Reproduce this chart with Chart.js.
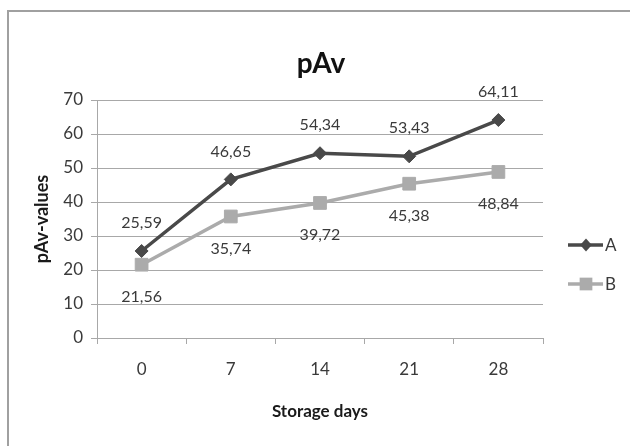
<!DOCTYPE html>
<html>
<head>
<meta charset="utf-8">
<script src="https://cdn.jsdelivr.net/npm/chart.js@4/dist/chart.umd.min.js"></script>
<style>
  html, body { margin: 0; padding: 0; background: #fff; }
  #wrap { width: 630px; height: 446px; position: relative; }
</style>
</head>
<body>
<div id="wrap"><canvas id="c" width="630" height="446"></canvas></div>
<script>
const chartTitle = 'pAv';
const xAxisTitle = 'Storage days';
const yAxisTitle = 'pAv-values';
const categories = ['0', '7', '14', '21', '28'];
const seriesNames = ['A', 'B'];
const seriesA = [25.59, 46.65, 54.34, 53.43, 64.11];
const seriesB = [21.56, 35.74, 39.72, 45.38, 48.84];
const yTicks = [0, 10, 20, 30, 40, 50, 60, 70];

const FONT = "Lato, 'Open Sans', sans-serif";
const colA = '#494949';
const colB = '#ababab';
const gridCol = '#a8a8a8';
const textCol = '#3a3a3a';

const decoPlugin = {
  id: 'deco',
  beforeDraw(chart) {
    const ctx = chart.ctx;
    ctx.save();
    ctx.fillStyle = '#fff';
    ctx.fillRect(0, 0, chart.width, chart.height);
    ctx.strokeStyle = '#a0a0a0';
    ctx.lineWidth = 2;
    ctx.beginPath();
    ctx.moveTo(8, 446);
    ctx.lineTo(8, 11);
    ctx.lineTo(630, 11);
    ctx.stroke();
    ctx.restore();
  },
  afterDraw(chart) {
    const ctx = chart.ctx;
    ctx.save();
    // title
    ctx.fillStyle = '#111';
    ctx.font = "bold 28px " + FONT;
    ctx.textAlign = 'center';
    ctx.textBaseline = 'middle';
    ctx.fillText(chartTitle, 321, 64);
    // legend
    const items = [
      {name: seriesNames[0], color: colA, style: 'rectRot', r: 6.5, y: 245},
      {name: seriesNames[1], color: colB, style: 'rect', r: 9, y: 284}
    ];
    items.forEach(it => {
      ctx.strokeStyle = it.color;
      ctx.lineWidth = 3.5;
      ctx.beginPath();
      ctx.moveTo(568, it.y);
      ctx.lineTo(603, it.y);
      ctx.stroke();
      ctx.fillStyle = it.color;
      ctx.beginPath();
      if (it.style === 'rectRot') {
        ctx.moveTo(586, it.y - it.r);
        ctx.lineTo(586 + it.r * 0.9, it.y);
        ctx.lineTo(586, it.y + it.r);
        ctx.lineTo(586 - it.r * 0.9, it.y);
        ctx.closePath();
      } else {
        const s = it.r * Math.SQRT1_2;
        ctx.rect(586 - s, it.y - s, 2 * s, 2 * s);
      }
      ctx.fill();
      ctx.fillStyle = textCol;
      ctx.font = "17px " + FONT;
      ctx.textAlign = 'left';
      ctx.textBaseline = 'middle';
      ctx.fillText(it.name, 605, it.y + 1);
    });
    ctx.restore();
  },
  afterDatasetsDraw(chart) {
    const ctx = chart.ctx;
    ctx.save();
    ctx.fillStyle = textCol;
    ctx.font = "16px " + FONT;
    ctx.textAlign = 'center';
    ctx.textBaseline = 'middle';
    const offsets = [-28, 32];
    chart.data.datasets.forEach((ds, i) => {
      const meta = chart.getDatasetMeta(i);
      meta.data.forEach((pt, j) => {
        const txt = ds.data[j].toFixed(2).replace('.', ',');
        ctx.fillText(txt, pt.x, pt.y + offsets[i]);
      });
    });
    ctx.restore();
  }
};

new Chart(document.getElementById('c'), {
  type: 'line',
  data: {
    labels: categories,
    datasets: [
      {
        label: seriesNames[0], data: seriesA,
        borderColor: colA, backgroundColor: colA, borderWidth: 3.5,
        pointStyle: 'rectRot', pointRadius: 6.5, pointHoverRadius: 6.5,
        pointBackgroundColor: colA, pointBorderColor: colA, pointBorderWidth: 1,
        tension: 0, fill: false
      },
      {
        label: seriesNames[1], data: seriesB,
        borderColor: colB, backgroundColor: colB, borderWidth: 3.5,
        pointStyle: 'rect', pointRadius: 9, pointHoverRadius: 9,
        pointBackgroundColor: colB, pointBorderColor: colB, pointBorderWidth: 1,
        tension: 0, fill: false
      }
    ]
  },
  options: {
    responsive: false,
    animation: false,
    devicePixelRatio: 1,
    layout: { padding: { left: 8, right: 87, top: 100, bottom: 0 } },
    plugins: {
      legend: { display: false },
      title: { display: false },
      tooltip: { enabled: false }
    },
    scales: {
      x: {
        type: 'category',
        offset: true,
        afterFit(s) { s.height = 108; },
        grid: {
          offset: true, drawOnChartArea: false, drawTicks: true,
          tickLength: 6, color: gridCol, lineWidth: 1
        },
        border: { color: gridCol, width: 1 },
        ticks: { color: textCol, font: { family: FONT, size: 17 }, padding: 15 },
        title: {
          display: true, text: xAxisTitle, color: '#1a1a1a',
          font: { family: FONT, size: 17, weight: 'bold' },
          padding: { top: 0, bottom: 24 }
        }
      },
      y: {
        min: 0, max: 70,
        afterFit(s) { s.width = 89; },
        afterBuildTicks(s) { s.ticks = yTicks.map(v => ({ value: v })); },
        grid: { color: gridCol, lineWidth: 1, tickLength: 6, drawTicks: true },
        border: { color: gridCol, width: 1 },
        ticks: { color: textCol, font: { family: FONT, size: 17 }, padding: 8 },
        title: {
          display: true, text: yAxisTitle, color: '#1a1a1a',
          font: { family: FONT, size: 18, weight: 'bold' },
          padding: { top: 23, bottom: 0 }
        }
      }
    }
  },
  plugins: [decoPlugin]
});
</script>
</body>
</html>
